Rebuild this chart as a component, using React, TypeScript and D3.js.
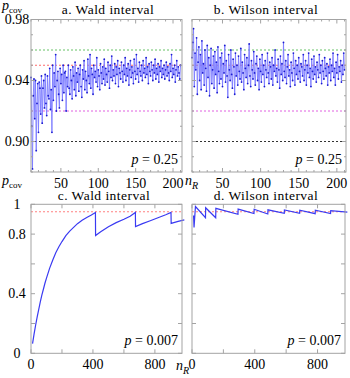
import React from 'react';
import * as d3 from 'd3';

// sample sizes in panels a and b run from nStart upward, one value per n
const nStart = 10;

const waldTop = [
  0.942, 0.910, 0.882, 0.930, 0.941, 0.915, 0.940, 0.894, 0.925, 0.938,
  0.906, 0.939, 0.935, 0.918, 0.943, 0.912, 0.935, 0.940, 0.922, 0.944,
  0.925, 0.917, 0.943, 0.930, 0.928, 0.948, 0.921, 0.934, 0.906, 0.950,
  0.927, 0.945, 0.936, 0.957, 0.920, 0.940, 0.946, 0.931, 0.922, 0.948,
  0.938, 0.944, 0.927, 0.950, 0.932, 0.945, 0.946, 0.920, 0.942, 0.936,
  0.950, 0.935, 0.931, 0.947, 0.940, 0.928, 0.949, 0.943, 0.934, 0.952,
  0.930, 0.945, 0.939, 0.948, 0.933, 0.944, 0.950, 0.936, 0.929, 0.947,
  0.941, 0.953, 0.934, 0.946, 0.940, 0.932, 0.954, 0.943, 0.938, 0.957,
  0.935, 0.948, 0.944, 0.931, 0.950, 0.942, 0.946, 0.939, 0.955, 0.936,
  0.947, 0.943, 0.934, 0.951, 0.945, 0.938, 0.949, 0.941, 0.954, 0.937,
  0.948, 0.944, 0.939, 0.952, 0.946, 0.935, 0.950, 0.942, 0.956, 0.940,
  0.947, 0.943, 0.951, 0.938, 0.949, 0.944, 0.953, 0.936, 0.948, 0.945,
  0.941, 0.952, 0.946, 0.939, 0.950, 0.944, 0.955, 0.940, 0.948, 0.943,
  0.951, 0.937, 0.947, 0.953, 0.942, 0.949, 0.945, 0.938, 0.954, 0.946,
  0.941, 0.957, 0.944, 0.948, 0.939, 0.952, 0.946, 0.943, 0.950, 0.940,
  0.953, 0.945, 0.948, 0.942, 0.955, 0.944, 0.949, 0.938, 0.951, 0.946,
  0.943, 0.952, 0.947, 0.940, 0.950, 0.945, 0.954, 0.941, 0.948, 0.944,
  0.951, 0.939, 0.949, 0.946, 0.953, 0.942, 0.948, 0.944, 0.950, 0.941,
  0.947, 0.952, 0.943, 0.949, 0.945, 0.940, 0.951, 0.946, 0.957, 0.942,
  0.948, 0.944, 0.950, 0.939, 0.947, 0.953, 0.943, 0.949, 0.945, 0.941, 0.950,
];

const wilsonTop = [
  0.955, 0.965, 0.974, 0.936, 0.958, 0.947, 0.968, 0.931, 0.952, 0.962,
  0.940, 0.957, 0.934, 0.966, 0.945, 0.951, 0.937, 0.960, 0.948, 0.933,
  0.963, 0.942, 0.955, 0.930, 0.950, 0.961, 0.938, 0.947, 0.956, 0.935,
  0.959, 0.944, 0.952, 0.932, 0.962, 0.946, 0.938, 0.955, 0.941, 0.958,
  0.936, 0.951, 0.945, 0.963, 0.939, 0.953, 0.943, 0.929, 0.957, 0.947,
  0.940, 0.960, 0.944, 0.935, 0.954, 0.949, 0.931, 0.958, 0.943, 0.950,
  0.937, 0.956, 0.946, 0.941, 0.961, 0.939, 0.952, 0.945, 0.934, 0.957,
  0.948, 0.942, 0.955, 0.938, 0.950, 0.964, 0.943, 0.936, 0.953, 0.947,
  0.941, 0.959, 0.945, 0.937, 0.951, 0.956, 0.940, 0.948, 0.934, 0.954,
  0.946, 0.939, 0.957, 0.944, 0.950, 0.936, 0.953, 0.947, 0.942, 0.958,
  0.945, 0.938, 0.952, 0.949, 0.941, 0.955, 0.937, 0.950, 0.946, 0.960,
  0.943, 0.948, 0.939, 0.954, 0.947, 0.935, 0.956, 0.944, 0.951, 0.940,
  0.965, 0.946, 0.942, 0.953, 0.938, 0.949, 0.957, 0.943, 0.947, 0.936,
  0.952, 0.945, 0.940, 0.958, 0.948, 0.937, 0.953, 0.944, 0.950, 0.941,
  0.955, 0.946, 0.939, 0.951, 0.949, 0.943, 0.957, 0.940, 0.947, 0.953,
  0.937, 0.950, 0.945, 0.958, 0.942, 0.948, 0.936, 0.954, 0.946, 0.941,
  0.956, 0.944, 0.949, 0.939, 0.952, 0.947, 0.942, 0.957, 0.945, 0.950,
  0.938, 0.953, 0.946, 0.941, 0.955, 0.948, 0.943, 0.951, 0.937, 0.949,
  0.945, 0.954, 0.940, 0.950, 0.946, 0.958, 0.942, 0.948, 0.937, 0.952,
  0.945, 0.957, 0.941, 0.949, 0.946, 0.953, 0.939, 0.950, 0.944, 0.958, 0.947,
];

// p = 0.007 at the corners of the sawtooth
const nWaldBottom = [10, 20, 30, 40, 50, 60, 70, 80, 90, 100, 120, 140, 160, 180, 200, 225, 250, 275, 300, 330, 360, 390, 416, 417, 450, 500, 550, 600, 640, 674, 675, 720, 770, 820, 870, 904, 905, 950, 990];
const waldBottom = [0.065, 0.13, 0.19, 0.245, 0.295, 0.345, 0.39, 0.43, 0.47, 0.505, 0.57, 0.625, 0.675, 0.715, 0.75, 0.79, 0.82, 0.845, 0.87, 0.893, 0.912, 0.928, 0.945, 0.79, 0.815, 0.85, 0.877, 0.9, 0.92, 0.945, 0.85, 0.87, 0.89, 0.91, 0.93, 0.945, 0.872, 0.885, 0.895];

const nWilsonBottom = [10, 13, 22, 86, 87, 151, 152, 293, 294, 395, 396, 483, 484, 588, 589, 686, 687, 785, 786, 883, 884, 990];
const wilsonBottom = [0.925, 0.845, 0.985, 0.91, 0.977, 0.91, 0.973, 0.933, 0.968, 0.938, 0.967, 0.935, 0.963, 0.94, 0.962, 0.94, 0.96, 0.937, 0.96, 0.938, 0.958, 0.948];

const refTop = [0.96, 0.95, 0.92, 0.90];
const refTopColors = ['#66c266', '#ff6b6b', '#e060e0', '#333333'];
const refBottom = [0.95];
const refBottomColors = ['#ff8080'];

const yTicksTop = [0.88, 0.89, 0.90, 0.91, 0.92, 0.93, 0.94, 0.95, 0.96, 0.97, 0.98];
const yLabelsTop = ['0.90', '0.94', '0.98'];
const xTicksTop = [10, 20, 30, 40, 50, 60, 70, 80, 90, 100, 110, 120, 130, 140, 150, 160, 170, 180, 190, 200, 210];
const xLabelsTop = [50, 100, 150, 200];

const yTicksBottom = [0, 0.2, 0.4, 0.6, 0.8, 1];
const yLabelsBottom = ['0', '0.4', '0.8', '1'];
const xTicksBottom = [0, 200, 400, 600, 800];
const xLabelsBottom = [0, 400, 800];

const font = "'Liberation Serif', 'DejaVu Serif', serif";
const frameColor = '#a3a3a3';

type PanelProps = {
  left: number; right: number; top: number; bottom: number;
  xDomain: [number, number]; yDomain: [number, number];
  xs: number[]; ys: number[];
  markers: boolean;
  refs: number[]; refColors: string[];
  xTicks: number[]; xMajor: number[]; xLabels: number[];
  yTicks: number[]; yMajor: string[]; yLabels: string[] | null;
  title: string; titleX: number; titleY: number;
  pText: string;
};

function Panel(props: PanelProps) {
  const { left, right, top, bottom } = props;
  const x = d3.scaleLinear().domain(props.xDomain).range([left, right]);
  const y = d3.scaleLinear().domain(props.yDomain).range([bottom, top]);
  const pts = props.xs.map((n, i) => [n, props.ys[i]] as [number, number]);
  const line = d3.line<[number, number]>().x(d => x(d[0])).y(d => y(d[1]));
  const majorY = props.yMajor.map(Number);

  return (
    <g>
      <text x={props.titleX} y={props.titleY} textAnchor="middle" fontFamily={font} fontSize={13.5} letterSpacing={0.45}>
        {props.title}
      </text>
      {props.refs.map((r, i) => (
        <line key={'r' + i} x1={left} x2={right} y1={y(r)} y2={y(r)}
          stroke={props.refColors[i]} strokeWidth={1} strokeDasharray="2,2" />
      ))}
      {props.markers ? (
        <g>
          <path d={line(pts) || ''} fill="none" stroke="#7c7cff" strokeWidth={0.9} />
          {pts.map((d, i) => (
            <circle key={i} cx={x(d[0])} cy={y(d[1])} r={0.9} fill="#1a1ad0" />
          ))}
        </g>
      ) : (
        <path d={line(pts) || ''} fill="none" stroke="#3a3af2" strokeWidth={1.2} />
      )}
      <rect x={left} y={top} width={right - left} height={bottom - top} fill="none" stroke={frameColor} strokeWidth={1} />
      {props.xTicks.map(t => {
        const len = props.xMajor.includes(t) ? 4 : 2;
        return (
          <g key={'xt' + t}>
            <line x1={x(t)} x2={x(t)} y1={bottom} y2={bottom - len} stroke={frameColor} />
            <line x1={x(t)} x2={x(t)} y1={top} y2={top + len} stroke={frameColor} />
          </g>
        );
      })}
      {props.yTicks.map(t => {
        const len = majorY.some(m => Math.abs(m - t) < 1e-9) ? 4 : 2;
        return (
          <g key={'yt' + t}>
            <line x1={left} x2={left + len} y1={y(t)} y2={y(t)} stroke={frameColor} />
            <line x1={right} x2={right - len} y1={y(t)} y2={y(t)} stroke={frameColor} />
          </g>
        );
      })}
      {props.xLabels.map(t => (
        <text key={'xl' + t} x={x(t)} y={bottom + 15.5} textAnchor="middle" fontFamily={font} fontSize={14}>{t}</text>
      ))}
      {props.yLabels && props.yLabels.map(t => (
        <text key={'yl' + t} x={17} y={y(Number(t)) + 4.5} textAnchor="middle" fontFamily={font} fontSize={14}>{t}</text>
      ))}
      <text x={right - 4} y={bottom - 8} textAnchor="end" fontFamily={font} fontSize={14}>
        <tspan fontStyle="italic">p</tspan> = {props.pText}
      </text>
    </g>
  );
}

function AxisP({ x0, y0 }: { x0: number; y0: number }) {
  return (
    <text x={x0} y={y0} fontFamily={font} fontSize={14}>
      <tspan fontStyle="italic">p</tspan>
      <tspan fontSize={9} dy={2.5}>cov</tspan>
    </text>
  );
}

function AxisN({ x0, y0 }: { x0: number; y0: number }) {
  return (
    <text x={x0} y={y0} fontFamily={font} fontSize={14} fontStyle="italic">
      <tspan>n</tspan>
      <tspan fontSize={10} dy={4}>R</tspan>
    </text>
  );
}

export default function App() {
  const nTop = waldTop.map((_, i) => nStart + i);
  const topDomain: [number, number] = [10, 212];
  const bottomDomain: [number, number] = [0, 975];
  return (
    <svg width={350} height={378} style={{ position: 'absolute', left: 0, top: 0, background: '#fff' }}>
      <Panel left={31} right={182} top={19.5} bottom={172}
        xDomain={topDomain} yDomain={[0.88, 0.98]} xs={nTop} ys={waldTop} markers
        refs={refTop} refColors={refTopColors}
        xTicks={xTicksTop} xMajor={xLabelsTop} xLabels={xLabelsTop}
        yTicks={yTicksTop} yMajor={yLabelsTop} yLabels={yLabelsTop}
        title="a. Wald interval" titleX={108} titleY={14} pText="0.25" />
      <Panel left={192} right={346} top={19.5} bottom={172}
        xDomain={topDomain} yDomain={[0.88, 0.98]} xs={nTop} ys={wilsonTop} markers
        refs={refTop} refColors={refTopColors}
        xTicks={xTicksTop} xMajor={xLabelsTop} xLabels={xLabelsTop}
        yTicks={yTicksTop} yMajor={yLabelsTop} yLabels={null}
        title="b. Wilson interval" titleX={266} titleY={14} pText="0.25" />
      <Panel left={31} right={182} top={204.3} bottom={353.3}
        xDomain={bottomDomain} yDomain={[0, 1]} xs={nWaldBottom} ys={waldBottom} markers={false}
        refs={refBottom} refColors={refBottomColors}
        xTicks={xTicksBottom} xMajor={xTicksBottom} xLabels={xLabelsBottom}
        yTicks={yTicksBottom} yMajor={yTicksBottom.map(String)} yLabels={yLabelsBottom}
        title="c. Wald interval" titleX={104} titleY={200} pText="0.007" />
      <Panel left={192} right={345} top={204.3} bottom={353.3}
        xDomain={bottomDomain} yDomain={[0, 1]} xs={nWilsonBottom} ys={wilsonBottom} markers={false}
        refs={refBottom} refColors={refBottomColors}
        xTicks={xTicksBottom} xMajor={xTicksBottom} xLabels={xLabelsBottom}
        yTicks={yTicksBottom} yMajor={yTicksBottom.map(String)} yLabels={null}
        title="d. Wilson interval" titleX={266} titleY={200} pText="0.007" />
      <AxisP x0={2} y0={10} />
      <AxisP x0={2} y0={185} />
      <AxisN x0={185} y0={185} />
      <AxisN x0={176} y0={370} />
    </svg>
  );
}
